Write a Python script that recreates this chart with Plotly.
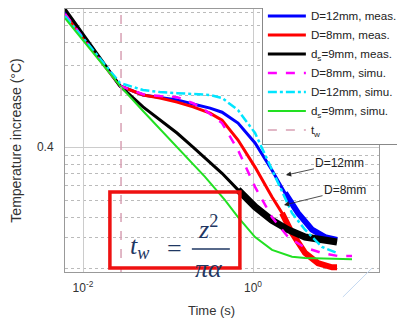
import math
import plotly.graph_objects as go

# ---- data ----
t_blue = [0.00614, 0.01209, 0.02724, 0.0508, 0.0805, 0.1276, 0.1968, 0.312, 0.432, 0.666, 1.056, 1.673, 2.379, 3.383, 4.944, 7.03, 9.73]
T_blue = [0.980, 0.782, 0.600, 0.565, 0.557, 0.547, 0.532, 0.518, 0.504, 0.469, 0.411, 0.343, 0.295, 0.258, 0.231, 0.220, 0.216]

t_red = [0.00614, 0.01209, 0.02724, 0.0508, 0.0805, 0.1276, 0.1968, 0.312, 0.432, 0.666, 1.056, 1.673, 2.193, 2.876, 4.091, 5.819, 8.50, 9.73]
T_red = [0.967, 0.777, 0.600, 0.565, 0.554, 0.539, 0.522, 0.501, 0.478, 0.419, 0.350, 0.287, 0.258, 0.226, 0.198, 0.185, 0.180, 0.180]

t_black = [0.00614, 0.01209, 0.02724, 0.0508, 0.0805, 0.1276, 0.1968, 0.312, 0.432, 0.666, 1.056, 1.673, 2.581, 4.091, 6.484, 9.73]
T_black = [1.000, 0.792, 0.600, 0.522, 0.478, 0.439, 0.400, 0.360, 0.336, 0.301, 0.269, 0.246, 0.231, 0.220, 0.216, 0.213]

t_mag = [0.00614, 0.01209, 0.02724, 0.0508, 0.0805, 0.1276, 0.1968, 0.2724, 0.432, 0.666, 1.056, 1.673, 2.581, 4.091, 6.484, 10.0, 14.61]
T_mag = [0.967, 0.777, 0.600, 0.568, 0.561, 0.557, 0.535, 0.511, 0.469, 0.392, 0.307, 0.251, 0.220, 0.205, 0.198, 0.194, 0.194]

t_cyan = [0.00614, 0.01209, 0.02724, 0.0508, 0.0805, 0.1276, 0.1968, 0.312, 0.432, 0.666, 1.056, 1.673, 2.193, 2.876, 4.091, 6.484, 9.73]
T_cyan = [0.954, 0.777, 0.612, 0.584, 0.576, 0.572, 0.568, 0.565, 0.554, 0.511, 0.439, 0.343, 0.295, 0.258, 0.231, 0.206, 0.198]

t_green = [0.00614, 0.01209, 0.02724, 0.0508, 0.0805, 0.1276, 0.1968, 0.2724, 0.468, 0.666, 1.056, 1.673, 2.876, 4.091, 14.61]
T_green = [0.941, 0.766, 0.600, 0.508, 0.451, 0.400, 0.357, 0.328, 0.281, 0.251, 0.220, 0.202, 0.193, 0.1915, 0.190]

t_w = [0.028, 0.028]
T_w = [0.17, 1.0]

names = ["D=12mm, meas.", "D=8mm, meas.", "d<sub>s</sub>=9mm, meas.",
         "D=8mm, simu.", "D=12mm, simu.", "d<sub>s</sub>=9mm, simu.", "t<sub>w</sub>"]

# arrow tip points of the two callouts (time, temperature)
callout_text = ["D=12mm", "D=8mm"]
callout_t = [2.44, 2.315]
callout_T = [0.332, 0.272]

y_minor = [0.98, 0.899, 0.798, 0.689, 0.565, 0.379, 0.357, 0.336, 0.309, 0.281, 0.25, 0.219, 0.178]

fig = go.Figure()

fig.add_trace(go.Scatter(x=t_blue, y=T_blue, mode="lines", name=names[0],
                         line=dict(color="#0000ff", width=3)))
fig.add_trace(go.Scatter(x=t_blue[12:], y=T_blue[12:], mode="lines", showlegend=False,
                         line=dict(color="#0000ff", width=6)))
fig.add_trace(go.Scatter(x=t_red, y=T_red, mode="lines", name=names[1],
                         line=dict(color="#ff0000", width=3)))
fig.add_trace(go.Scatter(x=t_red[12:], y=T_red[12:], mode="lines", showlegend=False,
                         line=dict(color="#ff0000", width=6)))
fig.add_trace(go.Scatter(x=t_black, y=T_black, mode="lines", name=names[2],
                         line=dict(color="#000000", width=3)))
fig.add_trace(go.Scatter(x=t_black[9:], y=T_black[9:], mode="lines", showlegend=False,
                         line=dict(color="#000000", width=7)))
fig.add_trace(go.Scatter(x=t_mag, y=T_mag, mode="lines", name=names[3],
                         line=dict(color="#ff00ff", width=2.5, dash="dash")))
fig.add_trace(go.Scatter(x=t_cyan, y=T_cyan, mode="lines", name=names[4],
                         line=dict(color="#00e5ff", width=2.5, dash="dashdot")))
fig.add_trace(go.Scatter(x=t_green, y=T_green, mode="lines", name=names[5],
                         line=dict(color="#22e022", width=2)))
fig.add_trace(go.Scatter(x=t_w, y=T_w, mode="lines", name=names[6],
                         line=dict(color="#d8a0b4", width=1.5, dash="dash")))

navy = "#1f3763"
# the page body adds an 8px margin, so the figure is 8px smaller and margins are shifted
fig.update_layout(
    width=397, height=315,
    margin=dict(l=57, r=26, t=1, b=51, autoexpand=False),
    paper_bgcolor="white", plot_bgcolor="white",
    font=dict(family="Liberation Sans, Arial, sans-serif", size=12, color="#333"),
    showlegend=True,
    legend=dict(x=0.627, y=1.082, xanchor="left", yanchor="top",
                title=dict(text=" ", font=dict(size=10)),
                bgcolor="white", bordercolor="#888", borderwidth=1,
                font=dict(size=11.6, color="#222"), itemwidth=38, tracegroupgap=0),
    xaxis=dict(type="log", range=[-2.212, 1.482], automargin=False,
               tickvals=[0.01, 1], ticktext=["10<sup>-2</sup>", "10<sup>0</sup>"],
               showgrid=True, gridcolor="#cccccc", gridwidth=1,
               showline=True, linecolor="#999", linewidth=1, mirror=True,
               ticks="", zeroline=False, ticklabelstandoff=5,
               tickfont=dict(size=12, color="#333")),
    yaxis=dict(type="log", range=[-0.7583, 0.0], automargin=False,
               tickvals=[0.4], ticktext=["0.4"],
               showgrid=True, gridcolor="#cccccc", gridwidth=1,
               minor=dict(tickvals=y_minor, showgrid=True, gridcolor="#bbbbbb",
                          griddash="dot", ticks=""),
               showline=True, linecolor="#999", linewidth=1, mirror=True,
               ticks="", zeroline=False, ticklabelstandoff=8,
               title=dict(text="Temperature increase (°C)", font=dict(size=14, color="#333"), standoff=12),
               tickfont=dict(size=12, color="#333")),
)

fig.add_annotation(text="Time (s)", xref="paper", yref="paper", x=0.465, y=-0.145,
                   xanchor="center", yanchor="middle",
                   showarrow=False, font=dict(size=13, color="#333"))

# arrows (annotation positions on log axes are given in log10 units)
for txt, tt, TT, axp, ayp in zip(callout_text, callout_t, callout_T, [54, 61], [-12, -15]):
    fig.add_annotation(x=math.log10(tt), y=math.log10(TT), xref="x", yref="y", text=txt,
                       showarrow=True, ax=axp, ay=ayp, arrowhead=2, arrowsize=1.3,
                       arrowwidth=0.8, arrowcolor="#222", font=dict(size=12, color="#222"))

# formula box
fig.add_shape(type="rect", xref="paper", yref="paper", x0=0.143, x1=0.557, y0=0.0152, y1=0.304,
              fillcolor="white", line=dict(width=0), layer="between")
fig.add_shape(type="rect", xref="paper", yref="paper", x0=0.143, x1=0.557, y0=0.0152, y1=0.304,
              line=dict(color="#ee1111", width=3.5), layer="above")
serif = "Liberation Serif, DejaVu Serif, serif"
fig.add_annotation(text="<i>t</i><sub><i>w</i></sub>", xref="paper", yref="paper", x=0.236, y=0.095,
                   xanchor="center", yanchor="middle",
                   showarrow=False, font=dict(family=serif, size=26, color=navy))
fig.add_annotation(text="=", xref="paper", yref="paper", x=0.350, y=0.09,
                   xanchor="center", yanchor="middle",
                   showarrow=False, font=dict(family=serif, size=26, color=navy))
fig.add_annotation(text="<i>z</i><sup>2</sup>", xref="paper", yref="paper", x=0.455, y=0.170,
                   xanchor="center", yanchor="middle",
                   showarrow=False, font=dict(family=serif, size=26, color=navy))
fig.add_shape(type="line", xref="paper", yref="paper", x0=0.404, x1=0.525, y0=0.0875, y1=0.0875,
              line=dict(color=navy, width=1.5), layer="above")
fig.add_annotation(text="<i>πα</i>", xref="paper", yref="paper", x=0.459, y=0.012,
                   xanchor="center", yanchor="middle",
                   showarrow=False, font=dict(family=serif, size=26, color=navy))

# faint diagonal stroke at bottom right
fig.add_shape(type="line", xref="paper", yref="paper", x0=0.885, y0=-0.095, x1=0.978, y1=0.015,
              line=dict(color="#c5d9f1", width=1))

fig.write_html("out.html")
